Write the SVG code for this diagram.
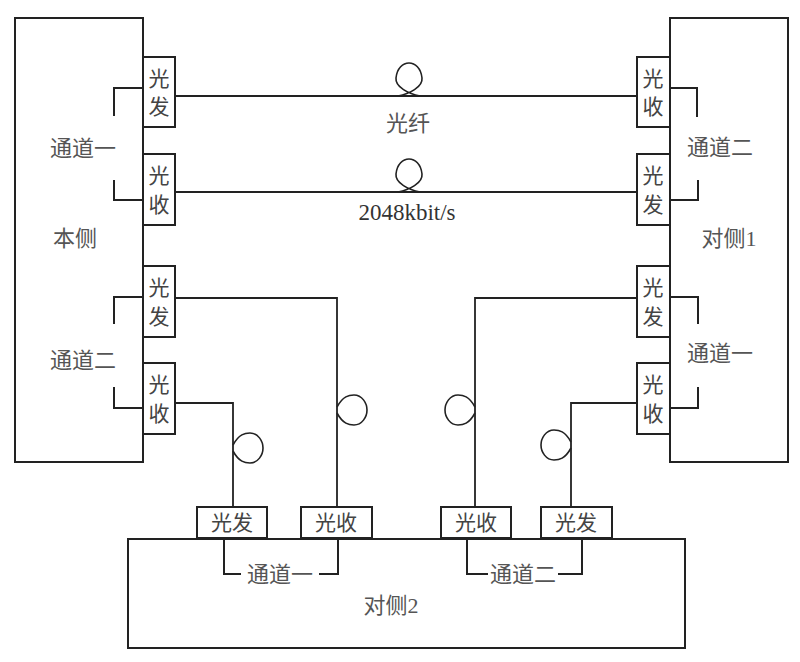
<svg xmlns="http://www.w3.org/2000/svg" width="800" height="662" viewBox="0 0 800 662">
<style>
.box{fill:none;stroke:#222;stroke-width:2}
.port{fill:#fff;stroke:#222;stroke-width:2}
.wire{fill:none;stroke:#222;stroke-width:1.8}
.loop{fill:none;stroke:#222;stroke-width:1.6}
.br{fill:none;stroke:#222;stroke-width:2}
.t{font-family:"Liberation Serif","Noto Sans CJK SC",serif;font-size:22px;fill:#555;text-anchor:middle;dominant-baseline:central}
.pt{font-family:"Liberation Serif","Noto Sans CJK SC",serif;font-size:21px;fill:#444;text-anchor:middle;dominant-baseline:central}
.lat{font-family:"Liberation Serif",serif;font-size:23px;fill:#333;text-anchor:middle;dominant-baseline:central}
</style>
<rect width="800" height="662" fill="#fff"/>
<g id="benche">
<rect class="box" x="15" y="18" width="128" height="444"/>
<text class="t" x="75" y="238">本侧</text>
<text class="t" x="83" y="148">通道一</text>
<text class="t" x="83" y="360">通道二</text>
</g>
<g id="duice1">
<rect class="box" x="670" y="18" width="118" height="444"/>
<text class="t" x="729" y="238">对侧1</text>
<text class="t" x="720" y="147">通道二</text>
<text class="t" x="720" y="353">通道一</text>
</g>
<g id="duice2">
<rect class="box" x="128" y="539" width="557" height="109"/>
<text class="t" x="391" y="605">对侧2</text>
<text class="t" x="280" y="574">通道一</text>
<text class="t" x="523" y="574">通道二</text>
</g>
<g id="L1"><rect class="port" x="143" y="57" width="32" height="70"/><text class="pt" x="159" y="79">光</text><text class="pt" x="159" y="107">发</text></g>
<g id="L2"><rect class="port" x="143" y="154" width="32" height="71"/><text class="pt" x="159" y="176">光</text><text class="pt" x="159" y="205">收</text></g>
<g id="L3"><rect class="port" x="143" y="266" width="32" height="71"/><text class="pt" x="159" y="288">光</text><text class="pt" x="159" y="317">发</text></g>
<g id="L4"><rect class="port" x="143" y="363" width="32" height="71"/><text class="pt" x="159" y="385">光</text><text class="pt" x="159" y="414">收</text></g>
<g id="R1"><rect class="port" x="637" y="57" width="33" height="70"/><text class="pt" x="653" y="79">光</text><text class="pt" x="653" y="107">收</text></g>
<g id="R2"><rect class="port" x="637" y="154" width="33" height="71"/><text class="pt" x="653" y="176">光</text><text class="pt" x="653" y="205">发</text></g>
<g id="R3"><rect class="port" x="637" y="266" width="33" height="71"/><text class="pt" x="653" y="288">光</text><text class="pt" x="653" y="317">发</text></g>
<g id="R4"><rect class="port" x="637" y="363" width="33" height="71"/><text class="pt" x="653" y="385">光</text><text class="pt" x="653" y="414">收</text></g>
<g id="B1"><rect class="port" x="197" y="507" width="70" height="31"/><text class="pt" x="232" y="523">光发</text></g>
<g id="B2"><rect class="port" x="301" y="507" width="71" height="31"/><text class="pt" x="336" y="523">光收</text></g>
<g id="B3"><rect class="port" x="441" y="507" width="70" height="31"/><text class="pt" x="476" y="523">光收</text></g>
<g id="B4"><rect class="port" x="541" y="507" width="71" height="31"/><text class="pt" x="576" y="523">光发</text></g>
<g id="connectors">
<path class="wire" d="M175 96H637"/>
<path class="loop" d="M398 96C409 94 423 87 422 78C421 68 415 63 409 63C403 63 397 68 396 78C395 87 409 94 420 96"/>
<path class="wire" d="M175 192H637"/>
<path class="loop" d="M398 192C409 190 423 183 422 174C421 164 415 159 409 159C403 159 397 164 396 174C395 183 409 190 420 192"/>
<path class="wire" d="M175 298H337V507"/>
<path class="loop" d="M337 407C343 396 349 395 354 395C362 395 367 403 367 410C367 417 362 425 354 425C349 425 343 424 337 413"/>
<path class="wire" d="M175 403H233V507"/>
<path class="loop" d="M233 445C239 434 245 433 250 433C258 433 263 441 263 448C263 455 258 463 250 463C245 463 239 462 233 451"/>
<path class="wire" d="M637 298H475V507"/>
<path class="loop" d="M475 407C469 396 463 395 458 395C450 395 445 403 445 410C445 417 450 425 458 425C463 425 469 424 475 413"/>
<path class="wire" d="M637 403H571V507"/>
<path class="loop" d="M571 442C565 431 559 430 554 430C546 430 541 438 541 445C541 452 546 460 554 460C559 460 565 459 571 448"/>
<path class="br" d="M143 88H114V116M114 180V200H143M143 297H114V324M114 387V408H143"/>
<path class="br" d="M670 88H697V117M698 180V200H670M670 297H698V324M698 387V408H670"/>
<path class="br" d="M224 539V574H241M319 574H338V539M467 539V574H488M558 574H582V539"/>
</g>
<g id="labels">
<text class="t" x="408" y="123">光纤</text>
<text class="lat" x="407" y="212">2048kbit/s</text>
</g>
</svg>
